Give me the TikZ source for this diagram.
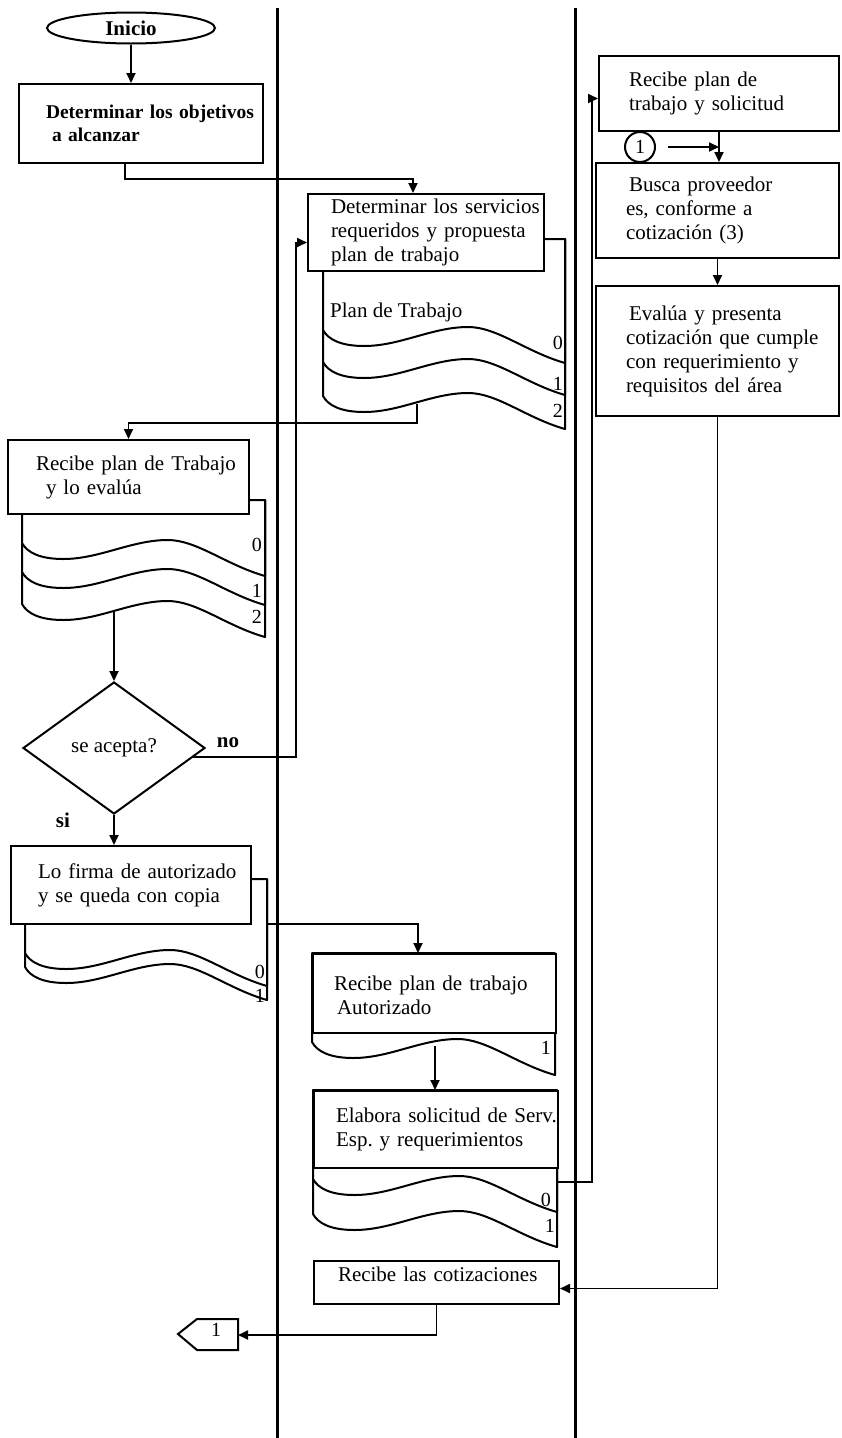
\documentclass[tikz,border=0pt]{standalone}
\usepackage{fontspec}
\setmainfont{Liberation Serif}
\usetikzlibrary{arrows.meta,shapes.geometric,calc}
\newcommand{\myfs}{\fontsize{21}{24}\selectfont}
\newcommand{\docsheet}[4]{% xL, xR, top, y of wave start
  \pgfmathsetmacro\dsw{#2-#1}%
  \filldraw[sheet] (#1,#3) -- (#1,#4)
    .. controls ({#1+0.02*\dsw},{#4+9}) and ({#1+0.07*\dsw},{#4+16}) .. ({#1+0.17*\dsw},{#4+16})
    .. controls ({#1+0.32*\dsw},{#4+16}) and ({#1+0.45*\dsw},{#4-3}) .. ({#1+0.6*\dsw},{#4-3})
    .. controls ({#1+0.72*\dsw},{#4-3}) and ({#1+0.84*\dsw},{#4+22}) .. (#2,{#4+33})
    -- (#2,#3) -- cycle;}
\tikzset{
  box/.style={draw, line width=2pt, fill=white, rectangle, anchor=north west,
    align=left, inner ysep=0pt, font=\myfs},
  term/.style={draw, ellipse, line width=2pt, fill=white, minimum width=168pt,
    minimum height=31pt, inner sep=0pt, font=\bfseries\myfs},
  decision/.style={draw, diamond, line width=2pt, fill=white, minimum width=182pt,
    minimum height=132pt, inner sep=0pt, font=\myfs},
  lane/.style={line width=3pt},
  sheet/.style={line width=2pt, fill=white, line join=round},
  conn/.style={line width=1.8pt},
  arr/.style={conn, -{Triangle[length=10pt,width=9pt]}},
  lbl/.style={font=\fontsize{20}{22}\selectfont, inner sep=0pt},
  txt/.style={font=\myfs, inner sep=0pt},
}
\begin{document}
\frenchspacing
\begin{tikzpicture}[x=1pt,y=-1pt]
\fill[white] (0,0) rectangle (841,1438);
\useasboundingbox (0,0) rectangle (841,1438);

% swimlane separators
\coordinate (l1t) at (277,8); \coordinate (l1b) at (277,1438);
\coordinate (l2t) at (575,8); \coordinate (l2b) at (575,1438);
\draw[lane] (l1t) -- (l1b);
\draw[lane] (l2t) -- (l2b);

% ---------- left lane ----------
\node[term] (ini) at (131,28) {Inicio};
\node[box, minimum width=244pt, minimum height=79pt, text width=190pt, inner xsep=27pt,
  font=\bfseries\fontsize{19.5}{23}\selectfont] (b1) at (18,83)
  {\mbox{Determinar los objetivos}\\\mbox{\hspace*{6pt}a alcanzar}};

% document behind "Recibe plan de Trabajo"
\docsheet{22}{265}{500}{604}
\docsheet{22}{265}{500}{572}
\docsheet{22}{265}{500}{543}
\node[box, minimum width=241pt, minimum height=74pt, text width=185pt, inner xsep=28pt] (b3) at (7,439)
  {\mbox{Recibe plan de Trabajo}\\\mbox{\hspace*{10pt}y lo evalúa}};
\node[lbl, anchor=east] (d3l0) at (262,545) {0};
\node[lbl, anchor=east] (d3l1) at (262,591) {1};
\node[lbl, anchor=east] (d3l2) at (262,617) {2};
\coordinate (d3b) at (114,612);

\node[decision] (dia) at (114,748) {se acepta?};
\node[txt, font=\bfseries\myfs] (no) at (228,743) {no};
\node[txt, font=\bfseries\myfs] (si) at (63,820) {si};

% document behind "Lo firma de autorizado"
\docsheet{25}{267}{879}{967}
\docsheet{25}{267}{879}{953}
\node[box, minimum width=240pt, minimum height=78pt, text width=186pt, inner xsep=27pt] (b4) at (10,845)
  {\mbox{Lo firma de autorizado}\\\mbox{y se queda con copia}};
\node[lbl, anchor=east] (d4l0) at (265,972) {0};
\node[lbl, anchor=east] (d4l1) at (265,996) {1};
\coordinate (d4r) at (267,924);

% off-page connector
\draw[line width=2pt, fill=white, line join=miter] (178,1334) -- (197,1319) -- (238,1319) -- (238,1350) -- (197,1350) -- cycle;
\coordinate (off1) at (238,1335);
\node[lbl] (offt) at (216,1330) {1};

% ---------- middle lane ----------
\docsheet{323}{565}{239}{396}
\docsheet{323}{565}{239}{362}
\docsheet{323}{565}{239}{330}
\node[box, minimum width=236pt, minimum height=77pt, text width=190pt, inner xsep=23pt] (b2) at (307,193)
  {\mbox{Determinar los servicios}\\\mbox{requeridos y propuesta}\\\mbox{plan de trabajo}};
\node[txt, anchor=west] (pt) at (330,312) {Plan de Trabajo};
\node[lbl, anchor=east] (d2l0) at (563,343) {0};
\node[lbl, anchor=east] (d2l1) at (563,384) {1};
\node[lbl, anchor=east] (d2l2) at (563,411) {2};
\coordinate (d2b) at (417,404);

\docsheet{312}{555}{953}{1042}
\node[box, minimum width=243pt, minimum height=79pt, text width=201pt, inner xsep=21pt, text depth=20pt] (b5) at (312,953)
  {\mbox{Recibe plan de trabajo}\\\mbox{\hspace*{3pt}Autorizado}};
\node[lbl, anchor=east] (d5l1) at (551,1048) {1};
\coordinate (d5b) at (435,1046);

\docsheet{313}{557}{1090}{1214}
\docsheet{313}{557}{1090}{1179}
\node[box, minimum width=244pt, minimum height=77pt, text width=200pt, inner xsep=22pt] (b6) at (313,1090)
  {\mbox{Elabora solicitud de Serv.}\\\mbox{Esp. y requerimientos}};
\node[lbl, anchor=east] (d6l0) at (551,1200) {0};
\node[lbl, anchor=east] (d6l1) at (555,1226) {1};
\coordinate (d6r) at (557,1182);

\node[box, minimum width=245pt, minimum height=43pt, text width=197pt, inner xsep=24pt, text depth=16pt] (b10) at (313,1260)
  {\mbox{Recibe las cotizaciones}};

% ---------- right lane ----------
\node[box, minimum width=240pt, minimum height=75pt, text width=180pt, inner xsep=30pt] (b7) at (598,55)
  {\mbox{Recibe plan de}\\\mbox{trabajo y solicitud}};
\node[draw, circle, line width=2pt, fill=white, minimum size=30pt, inner sep=0pt,
  font=\fontsize{20}{22}\selectfont] (c1) at (640,147) {1};
\node[box, minimum width=243pt, minimum height=95pt, text width=183pt, inner xsep=30pt] (b8) at (595,162)
  {\mbox{\hspace*{3pt}Busca proveedor}\\\mbox{es, conforme a}\\\mbox{cotización (3)}};
\node[box, minimum width=243pt, minimum height=130pt, text width=183pt, inner xsep=30pt] (b9) at (595,285)
  {\mbox{\hspace*{3pt}Evalúa y presenta}\\\mbox{cotización que cumple}\\\mbox{con requerimiento y}\\\mbox{requisitos del área}};

% ---------- connectors ----------
\draw[arr] (ini.south) -- (ini.south |- b1.north);
\draw[arr] ($(b1.south west)+(107,0)$) -- ++(0,15) -| ($(b2.north west)+(106,0)$);
\draw[arr] (d2b) -- ++(0,19) -| (b3.north);
\draw[arr] (d3b) -- (dia.north);
\draw[arr] ($(dia.east)!0.14!(dia.south)$) -- ++(103,0) |- ($(b2.west)+(0,10)$);
\draw[arr] (dia.south) -- (dia.south |- b4.north);
\draw[arr] (d4r) -| ($(b5.north west)+(106,0)$);
\draw[arr] (d5b) -- (d5b |- b6.north);
\draw[arr] (d6r) -- ++(35,0) |- ($(b7.west)+(0,5)$);
\draw[arr] (b7.south) -- (b7.south |- b8.north);
\draw[arr] ($(c1.east)+(12,0)$) -- (c1.east -| b7.south);
\draw[arr] (b8.south) -- (b8.south |- b9.north);
\draw[arr] (b9.south) |- ($(b10.east)+(0,6)$);
\draw[arr] (b10.south) |- (off1);
\end{tikzpicture}
\end{document}
